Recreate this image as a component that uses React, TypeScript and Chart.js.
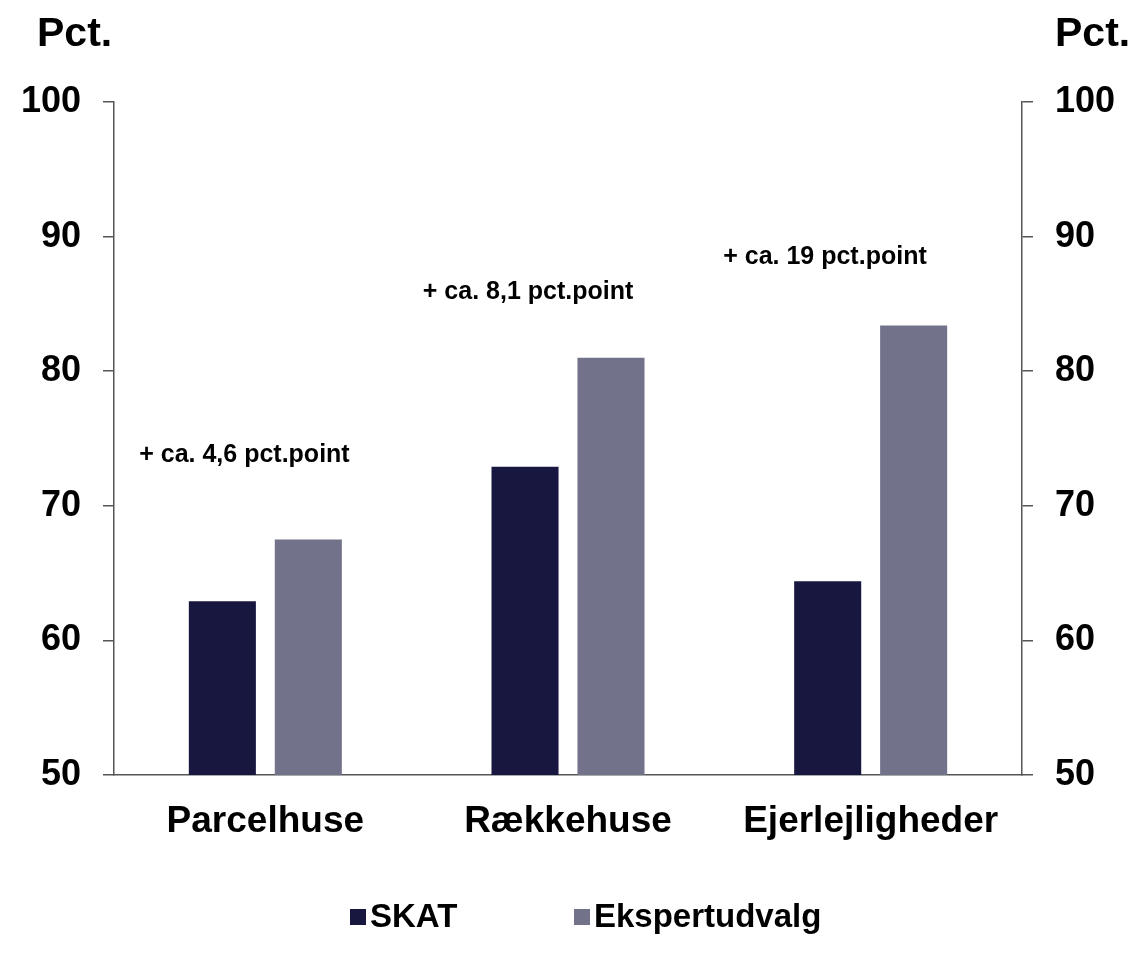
import React, { useEffect, useRef } from "react";
import { Chart, registerables } from "chart.js";

Chart.register(...registerables);

const categories = ["Parcelhuse", "Rækkehuse", "Ejerlejligheder"];
const seriesNames = ["SKAT", "Ekspertudvalg"];
const skatValues = [62.9, 72.9, 64.4];
const ekspertValues = [67.5, 81.0, 83.4];
const yMin = 50;
const yMax = 100;
const yStep = 10;
const axisTitle = "Pct.";
const annotationTexts = ["+ ca. 4,6 pct.point", "+ ca. 8,1 pct.point", "+ ca. 19 pct.point"];
const annotationCat = [-0.069, 0.868, 1.849];
const annotationVal = [73.25, 85.36, 87.96];

const COLORS = ["#17173F", "#72728B"];
const AXIS_COLOR = "#555555";
const FONT = "'Liberation Sans', Arial, sans-serif";

const overlayPlugin = {
  id: "overlay",
  afterDraw(chart: any) {
    const ctx = chart.ctx;
    const x = chart.scales.x;
    const y = chart.scales.y;
    ctx.save();
    ctx.fillStyle = "#000";
    // axis titles
    ctx.font = `bold 41px ${FONT}`;
    ctx.textAlign = "left";
    ctx.textBaseline = "alphabetic";
    ctx.fillText(axisTitle, 37, 46);
    ctx.fillText(axisTitle, 1055, 46);
    // annotations
    ctx.font = `bold 25px ${FONT}`;
    ctx.textAlign = "center";
    annotationTexts.forEach((t, i) => {
      ctx.fillText(t, x.getPixelForValue(annotationCat[i]), y.getPixelForValue(annotationVal[i]));
    });
    // legend
    const legendX = [350, 574];
    const legendY = 917;
    ctx.font = `bold 33px ${FONT}`;
    ctx.textAlign = "left";
    ctx.textBaseline = "middle";
    seriesNames.forEach((name, i) => {
      ctx.fillStyle = COLORS[i];
      ctx.fillRect(legendX[i], legendY - 8, 16, 16);
      ctx.fillStyle = "#000";
      ctx.fillText(name, legendX[i] + 20, legendY + 1);
    });
    ctx.restore();
  },
};

export default function App() {
  const ref = useRef<HTMLCanvasElement | null>(null);
  useEffect(() => {
    if (!ref.current) return;
    const yScaleCommon = {
      type: "linear",
      min: yMin,
      max: yMax,
      ticks: {
        stepSize: yStep,
        padding: 22,
        color: "#000",
        font: { family: FONT, size: 36, weight: "bold" },
      },
      grid: {
        drawOnChartArea: false,
        drawTicks: true,
        tickLength: 11,
        tickColor: AXIS_COLOR,
        lineWidth: 1.5,
      },
      border: { display: true, color: AXIS_COLOR, width: 1.5 },
    };
    const chart = new Chart(ref.current, {
      type: "bar",
      data: {
        labels: categories,
        datasets: [
          {
            label: seriesNames[0],
            data: skatValues,
            backgroundColor: COLORS[0],
            yAxisID: "y",
            barPercentage: 0.78,
            categoryPercentage: 0.568,
          },
          {
            label: seriesNames[1],
            data: ekspertValues,
            backgroundColor: COLORS[1],
            yAxisID: "y",
            barPercentage: 0.78,
            categoryPercentage: 0.568,
          },
        ],
      },
      options: {
        animation: false,
        responsive: true,
        maintainAspectRatio: false,
        layout: { padding: { top: 102, left: 0, right: 0, bottom: 0 } },
        plugins: {
          legend: { display: false },
          tooltip: { enabled: false },
        },
        scales: {
          x: {
            type: "category",
            ticks: {
              padding: 25,
              color: "#000",
              font: { family: FONT, size: 37, weight: "bold" },
              maxRotation: 0,
            },
            grid: { drawOnChartArea: false, drawTicks: false },
            border: { display: true, color: AXIS_COLOR, width: 1.5 },
            afterFit(scale: any) {
              scale.height = 201;
            },
          },
          y: {
            ...yScaleCommon,
            position: "left",
            afterFit(scale: any) {
              scale.width = 114;
            },
          },
          y2: {
            ...yScaleCommon,
            position: "right",
            afterFit(scale: any) {
              scale.width = 115;
            },
          },
        },
      } as any,
      plugins: [overlayPlugin],
    });
    return () => chart.destroy();
  }, []);
  return (
    <div style={{ position: "fixed", left: 0, top: 0, width: 1137, height: 976, background: "#fff" }}>
      <canvas ref={ref} />
    </div>
  );
}
